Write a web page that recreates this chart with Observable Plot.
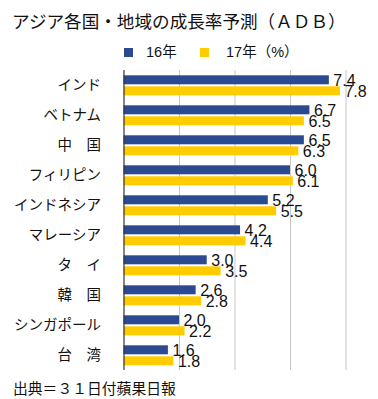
<!DOCTYPE html>
<html>
<head>
<meta charset="utf-8">
<script src="https://cdn.jsdelivr.net/npm/d3@7"></script>
<script src="https://cdn.jsdelivr.net/npm/@observablehq/plot@0.6"></script>
<style>
  html, body { margin: 0; padding: 0; background: #fff; }
  #wrap { position: relative; width: 378px; height: 399px; overflow: hidden;
    font-family: "Liberation Sans", "Noto Sans CJK JP", sans-serif; color: #111; }
  #title { position: absolute; left: 12px; top: 9px; font-size: 17.6px; line-height: 24px;
    white-space: nowrap; font-family: "Noto Sans CJK JP", sans-serif; }
  .sw { position: absolute; width: 9px; height: 9px; }
  .lt { position: absolute; font-size: 14.5px; line-height: 18px; white-space: nowrap; }
  #chart { position: absolute; left: 0; top: 60px; }
  #caption { position: absolute; left: 13px; top: 378px; font-size: 14.8px; line-height: 20px;
    white-space: nowrap; font-family: "Noto Sans CJK JP", sans-serif; }
</style>
</head>
<body>
<div id="wrap">
  <div id="title">アジア各国・地域の成長率予測（ＡＤＢ）</div>
  <div id="legend"></div>
  <div id="chart"></div>
  <div id="caption">出典＝３１日付蘋果日報</div>
</div>
<script>
const countries = ["インド", "ベトナム", "中　国", "フィリピン", "インドネシア", "マレーシア", "タ　イ", "韓　国", "シンガポール", "台　湾"];
const seriesNames = ["16年", "17年"];
const legendLabels = ["16年", "17年（%）"];
const colors = ["#2c4a91", "#ffcc00"];
const values16 = [7.4, 6.7, 6.5, 6.0, 5.2, 4.2, 3.0, 2.6, 2.0, 1.6];
const values17 = [7.8, 6.5, 6.3, 6.1, 5.5, 4.4, 3.5, 2.8, 2.2, 1.8];
const gridTicks = [2, 4, 6, 8];

const table = [];
countries.forEach((c, i) => {
  table.push({country: c, series: seriesNames[0], value: values16[i]});
  table.push({country: c, series: seriesNames[1], value: values17[i]});
});

// legend
const legend = document.getElementById("legend");
const swX = [124, 200], txX = [146, 226];
legendLabels.forEach((lab, i) => {
  const s = document.createElement("div");
  s.className = "sw"; s.style.left = swX[i] + "px"; s.style.top = "48px"; s.style.background = colors[i];
  legend.appendChild(s);
  const t = document.createElement("div");
  t.className = "lt"; t.style.left = txX[i] + "px"; t.style.top = "43px"; t.textContent = lab;
  legend.appendChild(t);
});

const chart = Plot.plot({
  width: 378,
  height: 316,
  marginLeft: 123.5,
  marginRight: 32.5,
  marginTop: 6.7,
  marginBottom: 2.7,
  style: {fontFamily: "\"Noto Sans CJK JP\", sans-serif", fontSize: "14.5px", color: "#111", background: "transparent"},
  facet: {data: table, y: "country"},
  fy: {domain: countries, paddingInner: 0, paddingOuter: 0, axis: "left", label: null, tickSize: 0, tickPadding: 23},
  y: {domain: seriesNames, paddingInner: 0.17, paddingOuter: 0.39, axis: null},
  x: {domain: [0, 8], axis: null},
  color: {domain: seriesNames, range: colors},
  marks: [
    Plot.ruleX(gridTicks, {stroke: "#c8c8c8", strokeWidth: 1}),
    Plot.barX(table, {x: "value", y: "series", fill: "series", inset: 0}),
    Plot.ruleX([0], {stroke: "#333", strokeWidth: 1.2}),
    Plot.text(table, {x: "value", y: "series", text: d => d.value.toFixed(1), textAnchor: "start",
      dx: 4, dy: 1, fontSize: 16, fill: "#111", fontFamily: "\"Liberation Sans\", Arial, sans-serif"})
  ]
});
document.getElementById("chart").appendChild(chart);
</script>
</body>
</html>
